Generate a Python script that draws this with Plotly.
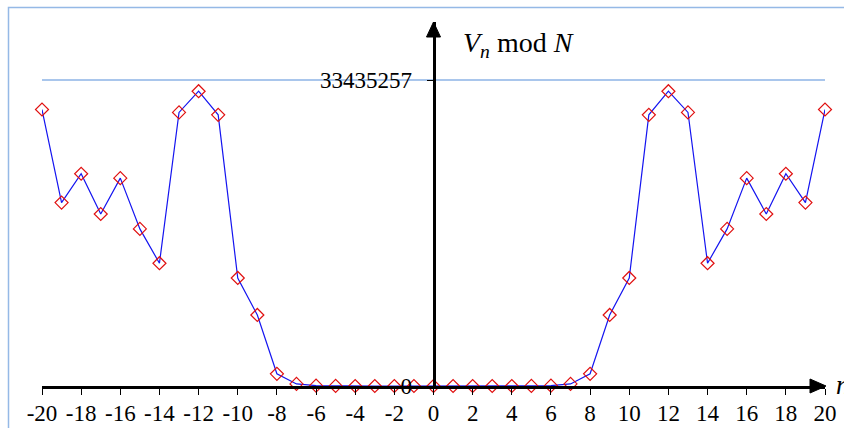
import plotly.graph_objects as go

# Data: V_n mod N for n = -20 .. 20
n_values = [-20, -19, -18, -17, -16, -15, -14, -13, -12, -11, -10, -9, -8, -7, -6, -5, -4, -3, -2, -1,
            0, 1, 2, 3, 4, 5, 6, 7, 8, 9, 10, 11, 12, 13, 14, 15, 16, 17, 18, 19, 20]
v_mod_n = [30209367, 20045158, 23191067, 18795473, 22711257, 17166298, 13416017, 29894547, 32210237,
           29625847, 11803817, 7761798, 1331714, 228486, 39202, 6726, 1154, 198, 34, 6,
           2, 6, 34, 198, 1154, 6726, 39202, 228486, 1331714, 7761798, 11803817, 29625847, 32210237,
           29894547, 13416017, 17166298, 22711257, 18795473, 23191067, 20045158, 30209367]
N_modulus = 33435257
x_tick_vals = [-20, -18, -16, -14, -12, -10, -8, -6, -4, -2, 0, 2, 4, 6, 8, 10, 12, 14, 16, 18, 20]
x_tick_text = ["-20", "-18", "-16", "-14", "-12", "-10", "-8", "-6", "-4", "-2", "0",
               "2", "4", "6", "8", "10", "12", "14", "16", "18", "20"]
y_tick_vals = [0, N_modulus]
y_tick_text = ["0", "33435257"]

W, H = 844, 428
ML, MR, MT, MB = 42, 19, 22, 42
plot_w = W - ML - MR
plot_h = H - MT - MB

def px_to_paper_x(px):
    return (px - ML) / plot_w

def py_to_paper_y(py):
    return (H - MB - py) / plot_h

ymax = N_modulus * plot_h / 306.0

SERIF = "Liberation Serif"
FRAME = "#95b9e6"
GRID = "#a9c6ec"

fig = go.Figure()
fig.add_trace(go.Scatter(
    x=n_values, y=v_mod_n, mode="lines+markers",
    line=dict(color="#1414f0", width=1.2),
    marker=dict(symbol="diamond-open", size=10, color="#e01010", line=dict(width=1.2, color="#e01010")),
    cliponaxis=False, showlegend=False, hoverinfo="x+y",
))

# arrow heads (pixel positions in figure coordinates)
ax_tip = px_to_paper_x(826)
ax_base = px_to_paper_x(810)
hy = 7 / plot_h
y0p = py_to_paper_y(386)
ay_tip = py_to_paper_y(22)
ay_base = py_to_paper_y(37)
cx = 0.5
hx = 7 / plot_w

shapes = [
    dict(type="rect", xref="paper", yref="paper",
         x0=px_to_paper_x(8.5), x1=px_to_paper_x(900), y0=py_to_paper_y(480), y1=py_to_paper_y(7.5),
         line=dict(color=FRAME, width=1.5), fillcolor="rgba(0,0,0,0)", layer="below"),
    dict(type="path", xref="paper", yref="paper",
         path=f"M {ax_tip} {y0p} L {ax_base} {y0p + hy} L {ax_base} {y0p - hy} Z",
         fillcolor="black", line=dict(color="black", width=1)),
    dict(type="path", xref="paper", yref="paper",
         path=f"M {cx} {ay_tip} L {cx - hx} {ay_base} L {cx + hx} {ay_base} Z",
         fillcolor="black", line=dict(color="black", width=1)),
]

annotations = [
    dict(xref="paper", yref="paper", x=px_to_paper_x(461), y=py_to_paper_y(44),
         xanchor="left", yanchor="middle", showarrow=False,
         text="<i>V</i><sub><i>n</i></sub> mod <i>N</i>",
         font=dict(family=SERIF, size=28, color="black")),
    dict(xref="paper", yref="paper", x=px_to_paper_x(834), y=py_to_paper_y(385),
         xanchor="left", yanchor="middle", showarrow=False,
         text="<i>n</i>", font=dict(family=SERIF, size=27, color="black")),
]

fig.update_layout(
    width=W, height=H, autosize=False,
    margin=dict(l=ML, r=MR, t=MT, b=MB, pad=0, autoexpand=False),
    paper_bgcolor="white", plot_bgcolor="white",
    shapes=shapes, annotations=annotations,
    xaxis=dict(range=[-20, 20], tickmode="array", tickvals=x_tick_vals, ticktext=x_tick_text,
               automargin=False,
               ticks="outside", ticklen=6, tickwidth=1.2, tickcolor="black",
               showline=True, linecolor="black", linewidth=3,
               showgrid=False, zeroline=False,
               tickfont=dict(family=SERIF, size=23, color="black"),
               ticklabelstandoff=-2),
    yaxis=dict(range=[0, ymax], tickmode="array", tickvals=y_tick_vals, ticktext=y_tick_text,
               automargin=False, anchor="free", position=0.5,
               ticks="outside", ticklen=6, tickwidth=1.2, tickcolor="black",
               showline=True, linecolor="black", linewidth=3,
               showgrid=True, gridcolor=GRID, gridwidth=1.5, zeroline=False,
               tickfont=dict(family=SERIF, size=23, color="black"),
               ticklabelstandoff=10),
)

fig.write_html(
    "out.html",
    config={"displayModeBar": False},
    post_script="document.body.style.margin='0';document.body.style.overflow='hidden';",
)
